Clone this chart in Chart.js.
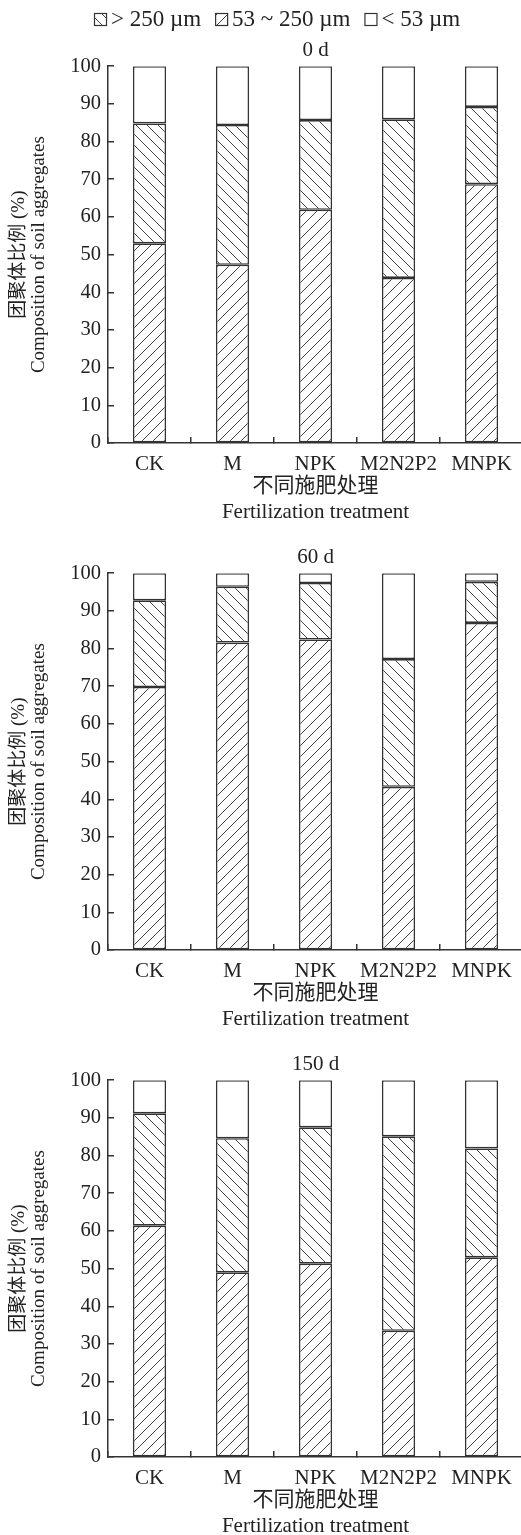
<!DOCTYPE html>
<html>
<head>
<meta charset="utf-8">
<script src="https://cdn.jsdelivr.net/npm/chart.js@4.4.1/dist/chart.umd.min.js"></script>
<style>
  html, body { margin: 0; padding: 0; background: #fff; }
  #wrap { position: relative; width: 521px; height: 1535px; overflow: hidden; }
  .panel { position: absolute; left: 0; width: 523px; height: 525px; }
</style>
</head>
<body>
<div id="wrap">
  <div class="panel" style="top:0px"><canvas id="day0" width="523" height="525"></canvas></div>
  <div class="panel" style="top:507px"><canvas id="day60" width="523" height="525"></canvas></div>
  <div class="panel" style="top:1014px"><canvas id="day150" width="523" height="525"></canvas></div>
</div>
<script>
// categories and labels
const treatments = ['CK', 'M', 'NPK', 'M2N2P2', 'MNPK'];
const sizeLarge = '> 250 µm';
const sizeMid = '53 ~ 250 µm';
const sizeSmall = '< 53 µm';
const yTitle = ['团聚体比例 (%)', 'Composition of soil aggregates'];
const xTitle = ['不同施肥处理', 'Fertilization treatment'];

// 0 d  (segment heights, bottom -> top)
const day0Mid   = [53.0, 47.3, 61.9, 43.8, 68.7];
const day0Large = [31.8, 37.1, 23.8, 42.1, 20.5];
const day0Small = [15.2, 15.6, 14.3, 14.1, 10.8];

// 60 d
const day60Mid   = [69.8, 81.6, 82.4, 43.3, 86.8];
const day60Large = [23.0, 14.8, 15.0, 33.9, 10.9];
const day60Small = [7.2, 3.6, 2.6, 22.8, 2.3];

// 150 d
const day150Mid   = [61.4, 49.0, 51.3, 33.5, 53.0];
const day150Large = [29.8, 35.6, 36.2, 51.6, 28.9];
const day150Small = [8.8, 15.4, 12.5, 14.9, 18.1];

const family = "'Liberation Serif', 'Noto Sans CJK SC', serif";
const ink = '#222';
const lineCol = '#333';

// hatch pattern helper
function hatch(dir, size) {
  const c = document.createElement('canvas');
  c.width = c.height = size;
  const g = c.getContext('2d');
  g.fillStyle = '#fff';
  g.fillRect(0, 0, size, size);
  g.strokeStyle = '#444';
  g.lineWidth = 1;
  g.beginPath();
  if (dir === '/') {
    g.moveTo(-1, size + 1); g.lineTo(size + 1, -1);
    g.moveTo(-1, 1); g.lineTo(1, -1);
    g.moveTo(size - 1, size + 1); g.lineTo(size + 1, size - 1);
  } else {
    g.moveTo(-1, -1); g.lineTo(size + 1, size + 1);
    g.moveTo(size - 1, -1); g.lineTo(size + 1, 1);
    g.moveTo(-1, size - 1); g.lineTo(1, size + 1);
  }
  g.stroke();
  return g.createPattern(c, 'repeat');
}
const fwdHatch = hatch('/', 11);
const backHatch = hatch('\\', 11);

// legend drawn above the first panel
const hatchLegend = {
  id: 'hatchLegend',
  afterDraw(chart) {
    const ctx = chart.ctx;
    const order = [1, 0, 2];
    ctx.save();
    ctx.font = '23px ' + family;
    ctx.textBaseline = 'middle';
    let x = 94;
    const y = 19;
    order.forEach(i => {
      const ds = chart.data.datasets[i];
      ctx.fillStyle = ds.backgroundColor;
      ctx.fillRect(x, y - 6, 13, 13);
      ctx.strokeStyle = lineCol;
      ctx.lineWidth = 1.2;
      ctx.strokeRect(x + 0.5, y - 5.5, 12, 12);
      ctx.fillStyle = ink;
      ctx.fillText(ds.label, x + 17, y + 1);
      x += 17 + ctx.measureText(ds.label).width + 14;
    });
    ctx.restore();
  }
};

function makeChart(id, title, mid, large, small, withLegend) {
  const ctx = document.getElementById(id).getContext('2d');
  const barStyle = { borderColor: lineCol, borderWidth: 1.6, borderSkipped: false,
                     barPercentage: 0.4, categoryPercentage: 1.0 };
  return new Chart(ctx, {
    type: 'bar',
    data: {
      labels: treatments,
      datasets: [
        Object.assign({ label: sizeMid, data: mid, backgroundColor: fwdHatch }, barStyle),
        Object.assign({ label: sizeLarge, data: large, backgroundColor: backHatch }, barStyle),
        Object.assign({ label: sizeSmall, data: small, backgroundColor: '#fff' }, barStyle)
      ]
    },
    options: {
      responsive: false,
      animation: false,
      layout: { padding: { top: 38, left: 0, right: 0, bottom: 0 } },
      plugins: {
        legend: { display: false },
        tooltip: { enabled: false },
        title: { display: true, text: title, fullSize: false, color: ink,
                 font: { family: family, size: 21, weight: 'normal', lineHeight: 1.2 },
                 padding: { top: 0, bottom: 3 } }
      },
      scales: {
        x: {
          stacked: true,
          afterFit: s => { s.height = 82; s.paddingLeft = 0; s.paddingRight = 0; },
          border: { display: true, color: lineCol, width: 1.5 },
          grid: { drawOnChartArea: false, offset: true, tickLength: -6, color: lineCol, lineWidth: 1.5 },
          ticks: { color: ink, padding: 15, autoSkip: false, maxRotation: 0, minRotation: 0,
                   font: { family: family, size: 21 } },
          title: { display: true, text: xTitle, color: ink, padding: { top: 0, bottom: 0 },
                   font: { family: family, size: 21, lineHeight: 1.22 } }
        },
        y: {
          stacked: true,
          min: 0, max: 100,
          afterFit: s => { s.width = 108; s.paddingTop = 0; s.paddingBottom = 0; },
          border: { display: true, color: lineCol, width: 1.5 },
          grid: { drawOnChartArea: false, tickLength: -6, color: lineCol, lineWidth: 1.5 },
          ticks: { stepSize: 10, color: ink, padding: 13, font: { family: family, size: 20.5 } },
          title: { display: true, text: yTitle, color: ink, padding: { top: 9, bottom: 0 },
                   font: { family: family, size: 19, lineHeight: 1.05 } }
        }
      }
    },
    plugins: withLegend ? [hatchLegend] : []
  });
}

makeChart('day0', '0 d', day0Mid, day0Large, day0Small, true);
makeChart('day60', '60 d', day60Mid, day60Large, day60Small, false);
makeChart('day150', '150 d', day150Mid, day150Large, day150Small, false);
</script>
</body>
</html>
